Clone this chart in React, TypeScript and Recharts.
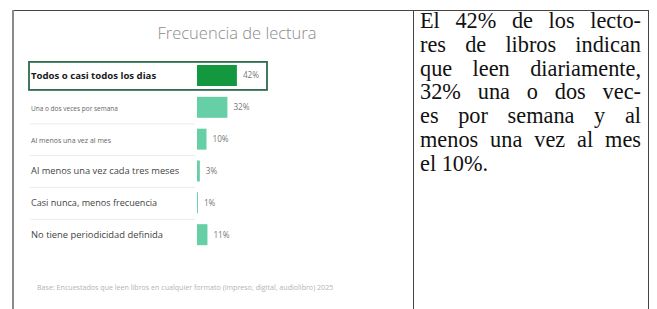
import React from 'react';
import { BarChart, Bar, XAxis, YAxis, Cell, LabelList } from 'recharts';

const categories = [
    'Todos o casi todos los dias',
    'Una o dos veces por semana',
    'Al menos una vez al mes',
    'Al menos una vez cada tres meses',
    'Casi nunca, menos frecuencia',
    'No tiene periodicidad definida',
];
const percentages = [42, 32, 10, 3, 1, 11];
const title = 'Frecuencia de lectura';
const footnote = 'Base: Encuestados que leen libros en cualquier formato (impreso, digital, audiolibro) 2025';
const sideLines = [
    'El 42% de los lecto-',
    'res de libros indican',
    'que leen diariamente,',
    '32% una o dos vec-',
    'es por semana y al',
    'menos una vez al mes',
    'el 10%.',
];

const data = categories.map((c, i) => ({ label: c, value: percentages[i] }));

const sans = '"Open Sans", "DejaVu Sans", sans-serif';

// the screenshot in the source has uneven label sizes
const labelSize = [9.6, 6.5, 7.0, 9.3, 9.1, 9.4];
const labelColor = ['#1a1a1a', '#666', '#666', '#444', '#444', '#444'];

const RowTick = (props: any) => {
    const { y, payload, index } = props;
    const first = index === 0;
    return (
        <g>
            {first && (
                <rect x={17} y={y - 14} width={238} height={28} fill="none" stroke="#2f6b4f" strokeWidth={1.8} />
            )}
            {index > 0 && index < categories.length - 1 && (
                <line x1={18} x2={183} y1={y + 16} y2={y + 16} stroke="#ececec" />
            )}
            <text
                x={19}
                y={y}
                dy={3}
                textAnchor="start"
                fontFamily={sans}
                fontSize={labelSize[index]}
                fontWeight={first ? 700 : 400}
                fill={labelColor[index]}
            >
                {payload.value}
            </text>
        </g>
    );
};

export default function App() {
    return (
        <div style={{ position: 'absolute', left: 0, top: 0, width: 657, height: 309, background: '#fff', overflow: 'hidden' }}>
            {/* table frame */}
            <div style={{ position: 'absolute', left: 12, top: 10, width: 637, height: 1, background: '#444' }} />
            <div style={{ position: 'absolute', left: 12, top: 10, width: 2, height: 299, background: '#8a8a8a' }} />
            <div style={{ position: 'absolute', left: 413, top: 10, width: 1, height: 299, background: '#444' }} />
            <div style={{ position: 'absolute', left: 648, top: 10, width: 1, height: 299, background: '#444' }} />

            <div style={{ position: 'absolute', left: 12, top: 10, width: 400, height: 299 }}>
                <div style={{ position: 'absolute', left: 0, top: 11, width: 450, textAlign: 'center', fontFamily: sans, fontSize: 16.5, fontWeight: 300, color: '#8c8c8c' }}>
                    {title}
                </div>
                <BarChart width={400} height={299} data={data} layout="vertical" margin={{ top: 50, right: 120, bottom: 58, left: 18 }}>
                    <XAxis type="number" domain={[0, 100]} hide />
                    <YAxis type="category" dataKey="label" width={167} axisLine={false} tickLine={false} tick={<RowTick />} interval={0} />
                    <Bar dataKey="value" barSize={21} isAnimationActive={false}>
                        {data.map((d, i) => (
                            <Cell key={d.label} fill={i === 0 ? '#13973f' : '#66cfa5'} />
                        ))}
                        <LabelList
                            dataKey="value"
                            position="right"
                            offset={6}
                            formatter={(v: any) => `${v}%`}
                            style={{ fontFamily: sans, fontSize: 8.2, fill: '#777' }}
                        />
                    </Bar>
                </BarChart>
                <div style={{ position: 'absolute', left: 25, top: 272, fontFamily: sans, fontSize: 7.1, color: '#b4b4b4', whiteSpace: 'nowrap' }}>
                    {footnote}
                </div>
            </div>

            <div style={{ position: 'absolute', left: 420, top: 9, width: 221, fontFamily: '"Liberation Serif", "Times New Roman", serif', fontSize: 22.3, lineHeight: '23.8px', color: '#111' }}>
                {sideLines.map((l, i) => (
                    <div key={i} style={{ textAlign: 'justify', textAlignLast: i < sideLines.length - 1 ? 'justify' : 'left' }}>
                        {l}
                    </div>
                ))}
            </div>
        </div>
    );
}
